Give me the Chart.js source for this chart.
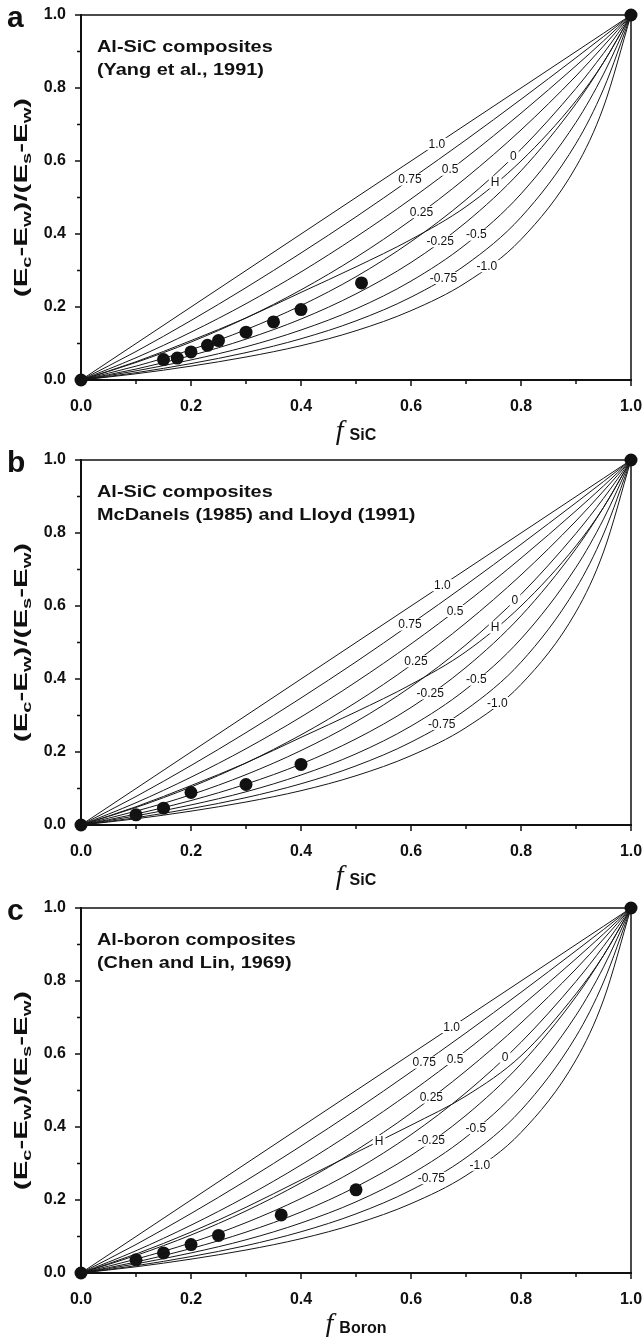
<!DOCTYPE html>
<html><head><meta charset="utf-8">
<script src="https://cdn.jsdelivr.net/npm/chart.js@4.4.1/dist/chart.umd.min.js"></script>
<style>
html,body{margin:0;padding:0;background:#fff;width:644px;height:1337px;overflow:hidden;position:relative}
canvas{position:absolute;left:0}
</style></head><body>
<canvas id="ca" width="644" height="445" style="top:0px;width:644px;height:445px"></canvas>
<canvas id="cb" width="644" height="448" style="top:445px;width:644px;height:448px"></canvas>
<canvas id="cc" width="644" height="444" style="top:893px;width:644px;height:444px"></canvas>
<script>
// ---------------- data ----------------
const fGrid = [0, 0.1, 0.2, 0.3, 0.4, 0.5, 0.6, 0.7, 0.8, 0.9, 0.95, 1.0];
const curveNames = ['1.0', '0.75', '0.5', '0.25', '0', 'H', '-0.25', '-0.5', '-0.75', '-1.0'];
const curveP100 = [0, 0.100, 0.200, 0.300, 0.400, 0.500, 0.600, 0.700, 0.800, 0.900, 0.950, 1];
const curveP075 = [0, 0.078, 0.163, 0.253, 0.348, 0.447, 0.551, 0.658, 0.769, 0.883, 0.941, 1];
const curveP050 = [0, 0.061, 0.131, 0.209, 0.296, 0.392, 0.496, 0.609, 0.731, 0.861, 0.929, 1];
const curveP025 = [0, 0.048, 0.104, 0.170, 0.247, 0.336, 0.438, 0.554, 0.685, 0.833, 0.915, 1];
const curveZero = [0, 0.038, 0.083, 0.138, 0.204, 0.283, 0.379, 0.494, 0.632, 0.799, 0.895, 1];
const curveM025 = [0, 0.030, 0.067, 0.112, 0.167, 0.236, 0.322, 0.432, 0.573, 0.757, 0.870, 1];
const curveM050 = [0, 0.025, 0.055, 0.091, 0.137, 0.195, 0.271, 0.372, 0.510, 0.706, 0.838, 1];
const curveM075 = [0, 0.020, 0.045, 0.075, 0.113, 0.162, 0.227, 0.316, 0.446, 0.648, 0.797, 1];
const curveM100 = [0, 0.017, 0.038, 0.063, 0.094, 0.135, 0.190, 0.267, 0.385, 0.584, 0.748, 1];
const curveH_SiC   = [0, 0.050, 0.108, 0.170, 0.240, 0.310, 0.385, 0.475, 0.600, 0.765, 0.870, 1];
const curveH_Boron = [0, 0.052, 0.112, 0.180, 0.255, 0.330, 0.405, 0.485, 0.595, 0.765, 0.870, 1];

// experimental points
const yangF = [0, 0.15, 0.175, 0.20, 0.23, 0.25, 0.30, 0.35, 0.40, 0.51, 1];
const yangE = [0, 0.056, 0.060, 0.077, 0.095, 0.108, 0.131, 0.159, 0.193, 0.266, 1];
const mcdF  = [0, 0.10, 0.15, 0.20, 0.30, 0.40, 1];
const mcdE  = [0, 0.028, 0.046, 0.089, 0.111, 0.166, 1];
const chenF = [0, 0.10, 0.15, 0.20, 0.25, 0.364, 0.50, 1];
const chenE = [0, 0.036, 0.055, 0.078, 0.103, 0.159, 0.228, 1];

// axis ticks
const majorTicks = [0, 0.2, 0.4, 0.6, 0.8, 1.0];
const minorTicks = [0.1, 0.3, 0.5, 0.7, 0.9];

// where each curve label sits (volume fraction), per panel, in curveNames order
const labelF_a = [0.647, 0.598, 0.671, 0.619, 0.786, 0.753, 0.653, 0.719, 0.659, 0.738];
const labelF_b = [0.657, 0.598, 0.680, 0.609, 0.789, 0.753, 0.635, 0.719, 0.656, 0.757];
const labelF_c = [0.674, 0.624, 0.680, 0.637, 0.771, 0.542, 0.637, 0.718, 0.637, 0.725];

// ---------------- drawing ----------------
const SANS = '"Liberation Sans", Arial, Helvetica, sans-serif';
const SERIF = '"Liberation Serif", "Times New Roman", serif';

function stretchText(ctx, text, x, y, sx, align) {
  ctx.save();
  ctx.translate(x, y);
  ctx.scale(sx, 1);
  ctx.textAlign = align || 'left';
  ctx.fillText(text, 0, 0);
  ctx.restore();
}
function interp(xs, ys, x) {
  for (let i = 0; i < xs.length - 1; i++) {
    if (x >= xs[i] && x <= xs[i + 1]) {
      const t = (x - xs[i]) / (xs[i + 1] - xs[i]);
      return ys[i] + t * (ys[i + 1] - ys[i]);
    }
  }
  return ys[ys.length - 1];
}

const panelInfo = {};

const deco = {
  id: 'deco',
  beforeDatasetsDraw(chart) {
    const ctx = chart.ctx, a = chart.chartArea;
    const xs = chart.scales.x, ys = chart.scales.y;
    ctx.save();
    ctx.strokeStyle = '#111';
    ctx.lineCap = 'butt';
    ctx.lineWidth = 1.5;
    ctx.beginPath();
    ctx.moveTo(a.left, a.top); ctx.lineTo(a.right, a.top); ctx.lineTo(a.right, a.bottom);
    ctx.stroke();
    ctx.lineWidth = 2;
    ctx.beginPath();
    ctx.moveTo(a.left, a.top - 1); ctx.lineTo(a.left, a.bottom);
    ctx.lineTo(a.right + 1, a.bottom);
    ctx.stroke();
    ctx.lineWidth = 1.5;
    ctx.beginPath();
    majorTicks.forEach(v => {
      const py = ys.getPixelForValue(v), px = xs.getPixelForValue(v);
      ctx.moveTo(a.left, py); ctx.lineTo(a.left - 6, py);
      ctx.moveTo(px, a.bottom); ctx.lineTo(px, a.bottom + 6);
    });
    minorTicks.forEach(v => {
      const py = ys.getPixelForValue(v), px = xs.getPixelForValue(v);
      ctx.moveTo(a.left, py); ctx.lineTo(a.left - 4, py);
      ctx.moveTo(px, a.bottom); ctx.lineTo(px, a.bottom + 4);
    });
    ctx.stroke();
    ctx.restore();
  },
  afterDatasetsDraw(chart) {
    const info = panelInfo[chart.canvas.id];
    const ctx = chart.ctx;
    const xs = chart.scales.x, ys = chart.scales.y;
    ctx.save();
    ctx.font = '12px ' + SANS;
    ctx.textBaseline = 'middle';
    info.curves.forEach((c, i) => {
      const f = info.labelF[i];
      const px = xs.getPixelForValue(f);
      const py = ys.getPixelForValue(interp(fGrid, c, f));
      const w = ctx.measureText(curveNames[i]).width;
      ctx.fillStyle = '#fff';
      ctx.fillRect(px - w / 2 - 2, py - 6, w + 4, 12);
      ctx.fillStyle = '#111';
      ctx.textAlign = 'center';
      ctx.fillText(curveNames[i], px, py + 0.5);
    });
    ctx.restore();
  },
  afterDraw(chart) {
    const info = panelInfo[chart.canvas.id];
    const ctx = chart.ctx, a = chart.chartArea;
    ctx.save();
    ctx.fillStyle = '#111';
    ctx.textBaseline = 'alphabetic';
    ctx.font = 'bold 30px ' + SANS;
    ctx.fillText(info.letter, 7, 27);
    ctx.font = 'bold 17px ' + SANS;
    stretchText(ctx, info.note[0], 97, 52, 1.17);
    stretchText(ctx, info.note[1], 97, 75, 1.17);
    const segs = [['(E', 0], ['c', 1], ['-E', 0], ['w', 1], [')/(E', 0], ['s', 1], ['-E', 0], ['w', 1], [')', 0]];
    const mainF = 'bold 19px ' + SANS, subF = 'bold 13px ' + SANS;
    let total = 0;
    segs.forEach(s => { ctx.font = s[1] ? subF : mainF; total += ctx.measureText(s[0]).width; });
    const sx = 1.55;
    ctx.save();
    ctx.translate(27, (a.top + a.bottom) / 2);
    ctx.rotate(-Math.PI / 2);
    ctx.scale(sx, 1);
    let cx = -total / 2;
    segs.forEach(s => {
      ctx.font = s[1] ? subF : mainF;
      ctx.textAlign = 'left';
      ctx.fillText(s[0], cx, s[1] ? 4 : 0);
      cx += ctx.measureText(s[0]).width;
    });
    ctx.restore();
    ctx.font = 'italic 28px ' + SERIF;
    const fw = ctx.measureText('f').width;
    ctx.font = 'bold 16px ' + SANS;
    const sw = ctx.measureText(info.xsub).width;
    const gap = 6;
    const start = (a.left + a.right) / 2 - (fw + gap + sw) / 2;
    const base = a.bottom + 60;
    ctx.font = 'italic 28px ' + SERIF;
    ctx.fillText('f', start, base - 1);
    ctx.font = 'bold 16px ' + SANS;
    ctx.fillText(info.xsub, start + fw + gap, base);
    ctx.restore();
  }
};

function curveSet(hCurve) {
  return [curveP100, curveP075, curveP050, curveP025, curveZero, hCurve, curveM025, curveM050, curveM075, curveM100];
}

function makePanel(id, letter, note, xsub, hCurve, ptsF, ptsE, labelF) {
  const canvas = document.getElementById(id);
  const curves = curveSet(hCurve);
  panelInfo[id] = { letter, note, xsub, curves, labelF };
  const datasets = curves.map((c, i) => ({
    type: 'line',
    label: curveNames[i],
    data: fGrid.map((f, j) => ({ x: f, y: c[j] })),
    borderColor: '#161616',
    borderWidth: 1,
    pointRadius: 0,
    fill: false,
    cubicInterpolationMode: 'monotone'
  }));
  datasets.push({
    type: 'scatter',
    label: 'data',
    data: ptsF.map((f, j) => ({ x: f, y: ptsE[j] })),
    backgroundColor: '#111',
    borderColor: '#111',
    borderWidth: 0,
    pointRadius: 6.5,
    clip: false
  });
  const H = canvas.height;
  const tickFont = { family: SANS, size: 16, weight: 'bold' };
  new Chart(canvas, {
    type: 'line',
    data: { datasets },
    options: {
      responsive: false,
      animation: false,
      devicePixelRatio: 1,
      layout: { padding: { top: 15, right: 13, left: 0, bottom: 0 } },
      plugins: { legend: { display: false }, tooltip: { enabled: false } },
      scales: {
        x: {
          type: 'linear', min: 0, max: 1,
          afterBuildTicks: s => { s.ticks = majorTicks.map(v => ({ value: v })); },
          ticks: { callback: v => v.toFixed(1), font: tickFont, color: '#111', padding: 17, maxRotation: 0, autoSkip: false },
          grid: { display: true, drawOnChartArea: false, drawTicks: false, color: 'rgba(0,0,0,0)' },
          border: { display: false },
          afterFit: s => { s.height = H - 380; s.paddingLeft = 0; s.paddingRight = 0; }
        },
        y: {
          type: 'linear', min: 0, max: 1,
          afterBuildTicks: s => { s.ticks = majorTicks.map(v => ({ value: v })); },
          ticks: { callback: v => v.toFixed(1), font: tickFont, color: '#111', padding: 15, autoSkip: false },
          grid: { display: true, drawOnChartArea: false, drawTicks: false, color: 'rgba(0,0,0,0)' },
          border: { display: false },
          afterFit: s => { s.width = 81; s.paddingTop = 0; s.paddingBottom = 0; }
        }
      }
    },
    plugins: [deco]
  });
}

makePanel('ca', 'a', ['Al-SiC composites', '(Yang et al., 1991)'], 'SiC', curveH_SiC, yangF, yangE, labelF_a);
makePanel('cb', 'b', ['Al-SiC composites', 'McDanels (1985) and Lloyd (1991)'], 'SiC', curveH_SiC, mcdF, mcdE, labelF_b);
makePanel('cc', 'c', ['Al-boron composites', '(Chen and Lin, 1969)'], 'Boron', curveH_Boron, chenF, chenE, labelF_c);
</script>
</body></html>
